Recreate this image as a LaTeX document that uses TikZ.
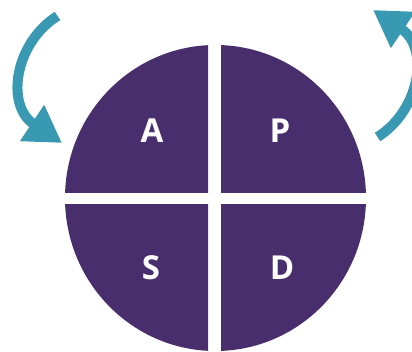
\documentclass[tikz,border=0pt]{standalone}
\usepackage{fontspec}
\setmainfont{Open Sans}
\usepackage{xcolor}
\usepackage{tikz}
\usetikzlibrary{arrows.meta}

\definecolor{quadpurple}{HTML}{482E6C}
\definecolor{cycleteal}{HTML}{3A99B2}

\begin{document}
\begin{tikzpicture}[
    x=1pt, y=-1pt,
    quad/.style={fill=quadpurple},
    letter/.style={text=white, font=\fontsize{33}{33}\selectfont\bfseries, inner sep=0pt},
    arrow/.style={-{Triangle[length=36pt, width=41pt]}, line width=10pt, cycleteal}
]
\useasboundingbox (0,0) rectangle (412,352);

% four quarters of the disc
\foreach \xa/\xb/\ya/\yb in {60/208/40/193, 221/370/40/193, 60/208/205/360, 221/370/205/360} {
  \begin{scope}
    \clip (\xa,\ya) rectangle (\xb,\yb);
    \fill[quad] (215.5,198) ellipse [x radius=150.5, y radius=153];
  \end{scope}
}

\node[letter] (act) at (152,131) {A};
\node[letter] (plan) at (280,131) {P};
\node[letter] (study) at (151,268) {S};
\node[letter] (do) at (282,268) {D};

% arrows round the disc
\coordinate (leftstart) at (57.5,16);
\coordinate (lefttip) at (62,143);
\draw[arrow] (leftstart) .. controls (15,42.5) and (5,105) .. (lefttip);

\begin{scope}[rotate around={180:(217.5,76.5)}]
  \coordinate (rightstart) at (57.5,16);
  \coordinate (righttip) at (62,143);
  \draw[arrow] (rightstart) .. controls (15,42.5) and (5,105) .. (righttip);
\end{scope}

\end{tikzpicture}
\end{document}
